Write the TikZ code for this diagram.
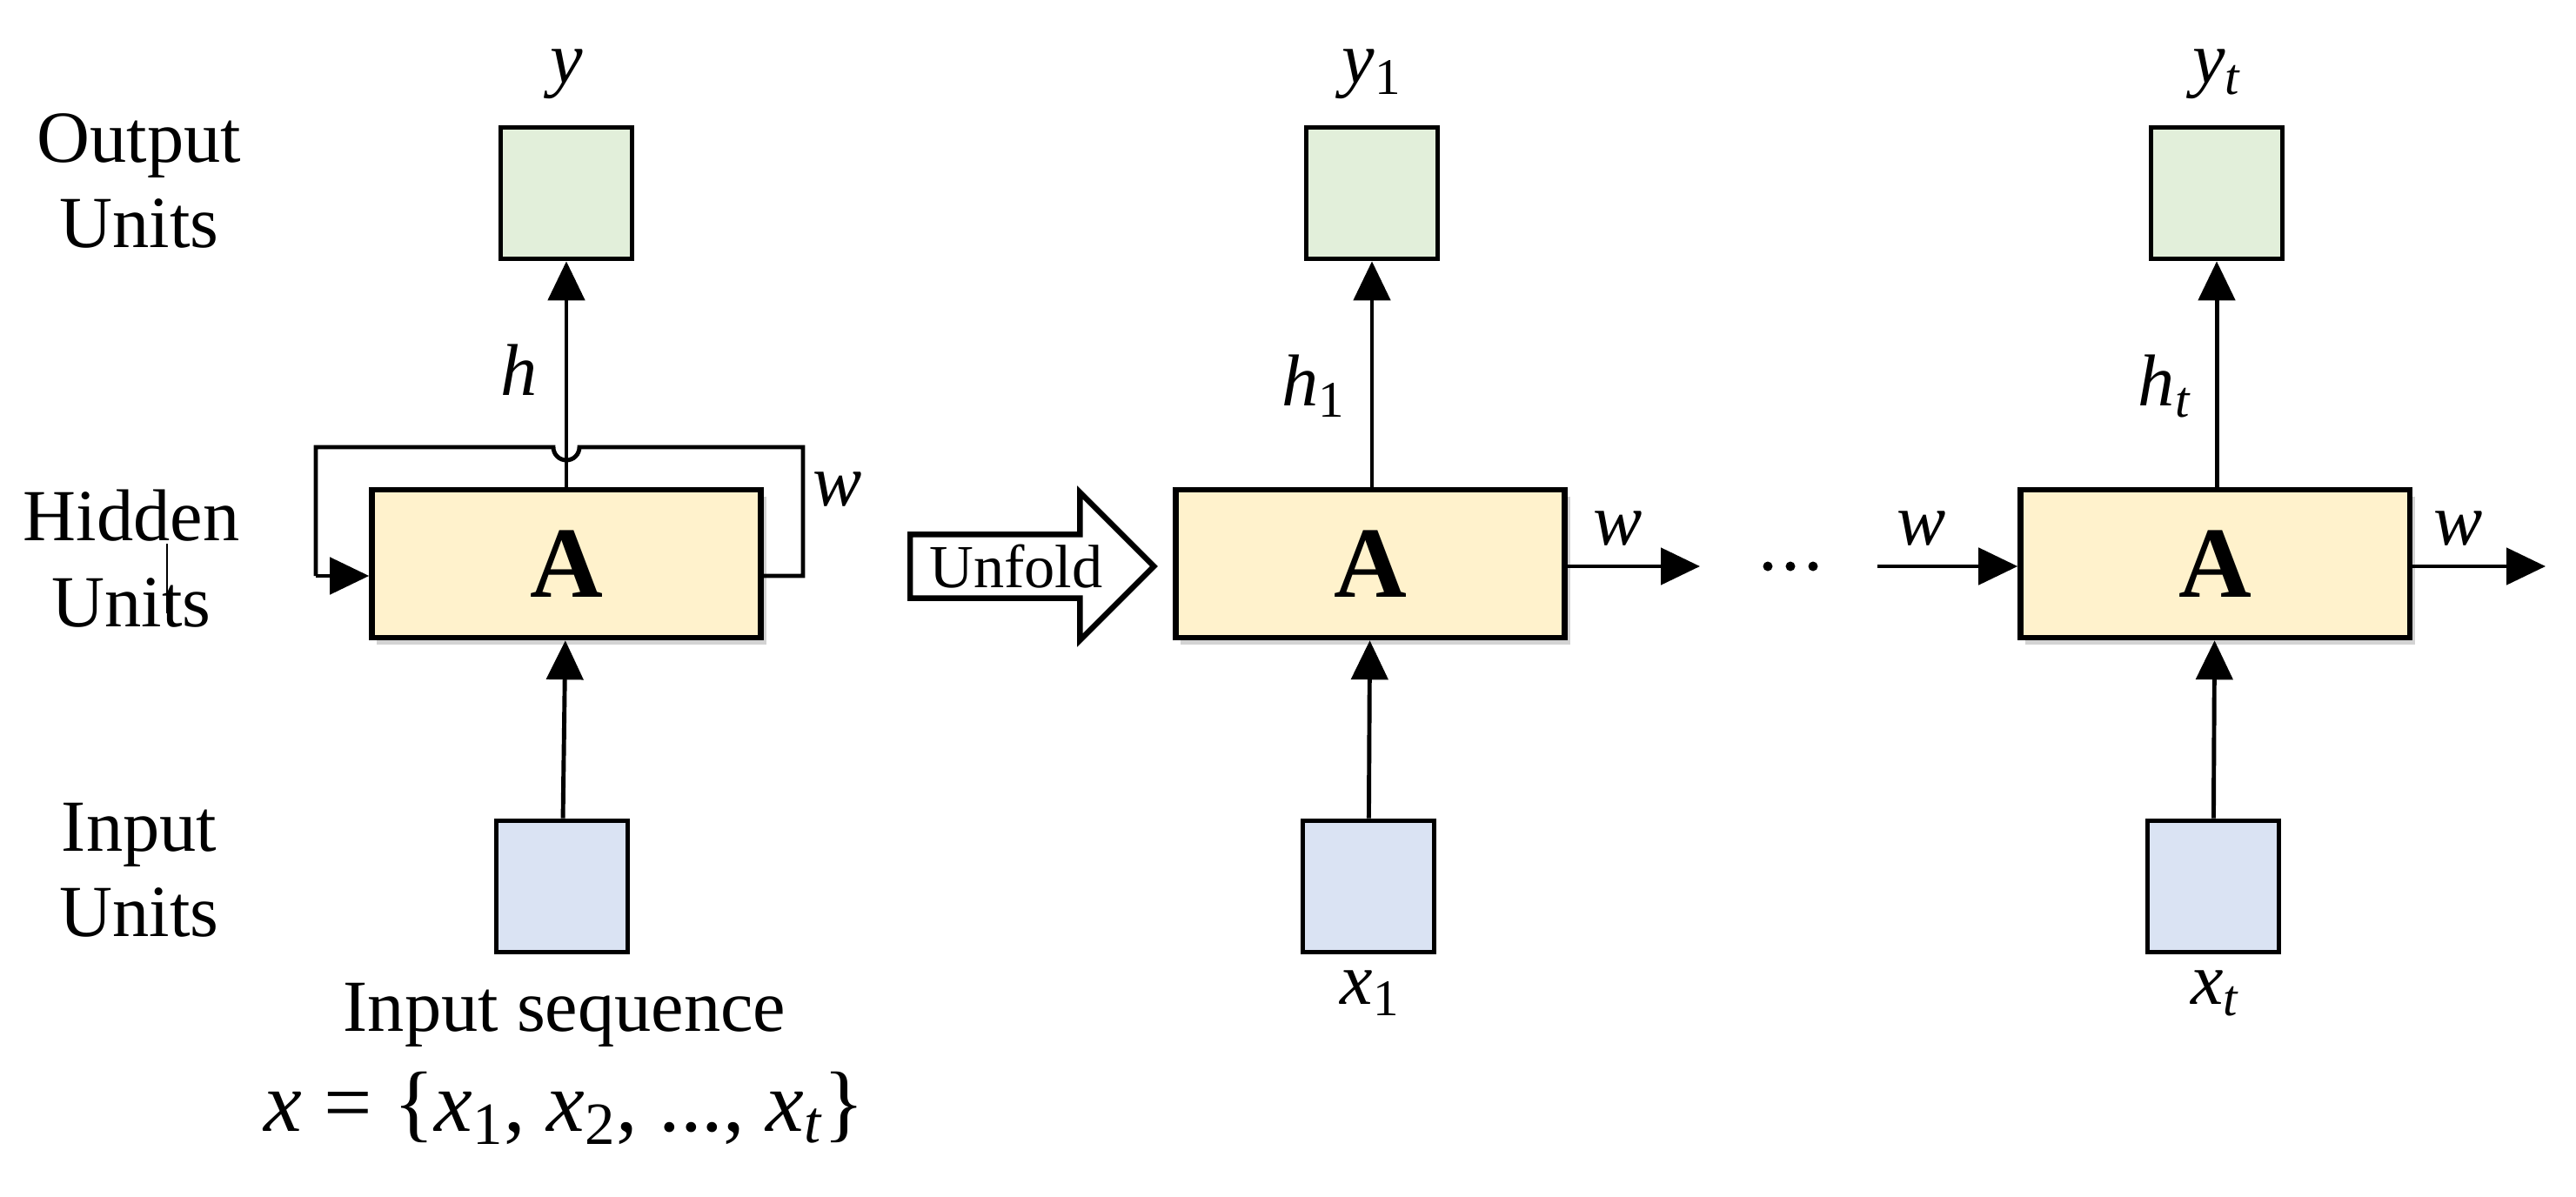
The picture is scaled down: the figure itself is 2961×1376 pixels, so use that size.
\documentclass[tikz,border=0pt]{standalone}
\usepackage{fontspec}
\setmainfont{Liberation Serif}
\usetikzlibrary{arrows.meta,shapes.arrows,shadows}
\definecolor{cA}{HTML}{FFF2CC}
\definecolor{cO}{HTML}{E2EFDA}
\definecolor{cI}{HTML}{DAE3F3}
\begin{document}
\begin{tikzpicture}[x=0.01cm,y=-0.01cm,
  every node/.style={font=\fontsize{24}{28}\selectfont},
  ln/.style={line width=1.4pt},
  arr/.style={ln,-{Triangle[length=0.45cm,width=0.42cm]}},
  abox/.style={draw,line width=1.8pt,fill=cA,minimum width=4.47cm,minimum height=1.7cm,drop shadow={shadow xshift=0.06cm,shadow yshift=-0.08cm,opacity=0.35},font=\fontsize{33}{36}\selectfont\bfseries},
  obox/.style={draw,line width=1.6pt,fill=cO,minimum size=1.51cm},
  ibox/.style={draw,line width=1.6pt,fill=cI,minimum size=1.51cm},
  lab/.style={font=\fontsize{24}{28}\selectfont\itshape}]
\useasboundingbox (0,0) rectangle (2961,1376);
% left
\node[align=center] (ol) at (160,208) {Output\\Units};
\node[align=center] (hl) at (151,642) {Hidden\\Units};
\node[align=center] (il) at (160,1000) {Input\\Units};
\draw[line width=0.6pt] (192,625) -- (192,705);
\node[abox] (A0) at (651,648) {A};
\node[obox] (O0) at (651,222) {};
\node[ibox] (I0) at (646,1019) {};
\draw[arr] (I0) -- (A0);
\draw[arr] (A0.north -| O0) -- (O0);
\coordinate (fr) at (A0.east |- 0,662);
\coordinate (fl) at (A0.west |- 0,662);
\draw[ln] (fr) -- (923,662) -- (923,514) -- (666,514) arc (0:180:15) -- (363,514) -- (363,662);
\draw[arr] (363,662) -- (fl);
\node[lab] (y0) at (651,85) {y};
\node[lab] (h0) at (597,425) {h};
\node[lab] (w0) at (963,563) {w};
\node (seq) at (649,1167) {Input sequence};
\node[font=\fontsize{28}{32}\selectfont] (eq) at (649,1274) {\textit{x} = \{\textit{x}\textsubscript{1}, \textit{x}\textsubscript{2}, ..., \textit{x}\textsubscript{\textit{t}}\}};
% unfold
\node[single arrow,draw,line width=1.8pt,fill=white,minimum height=2.8cm,minimum width=1.7cm,single arrow head extend=0.42cm,single arrow tip angle=90,inner sep=1pt,font=\fontsize{20}{22}\selectfont] (U) at (1168,651) {Unfold\hspace{0.75cm}};
% middle
\node[abox] (A1) at (1575,648) {A};
\node[obox] (O1) at (1577,222) {};
\node[ibox] (I1) at (1573,1019) {};
\draw[arr] (I1) -- (A1);
\draw[arr] (A1.north -| O1) -- (O1);
\node[lab] at (1577,85) {y\textsubscript{\upshape 1}};
\node[lab] at (1510,444) {h\textsubscript{\upshape 1}};
\node[lab] at (1575,1142) {x\textsubscript{\upshape 1}};
\coordinate (e1) at (1954,651);
\draw[arr] (A1.east |- e1) -- (e1);
\node[lab] at (1860,608) {w};
\node (dots) at (2058,651) {\tikz{\foreach \i in {0,1,2} \fill (\i*0.26cm,0) circle (0.055cm);}};
% right
\node[abox] (A2) at (2546,648) {A};
\node[obox] (O2) at (2548,222) {};
\node[ibox] (I2) at (2544,1019) {};
\draw[arr] (I2) -- (A2);
\draw[arr] (A2.north -| O2) -- (O2);
\coordinate (s2) at (2158,651);
\draw[arr] (s2) -- (A2.west |- s2);
\node[lab] at (2209,608) {w};
\node[lab] at (2548,85) {y\textsubscript{t}};
\node[lab] at (2488,444) {h\textsubscript{t}};
\node[lab] at (2546,1142) {x\textsubscript{t}};
\coordinate (e2) at (2926,651);
\draw[arr] (A2.east |- e2) -- (e2);
\node[lab] at (2826,608) {w};
\end{tikzpicture}
\end{document}
